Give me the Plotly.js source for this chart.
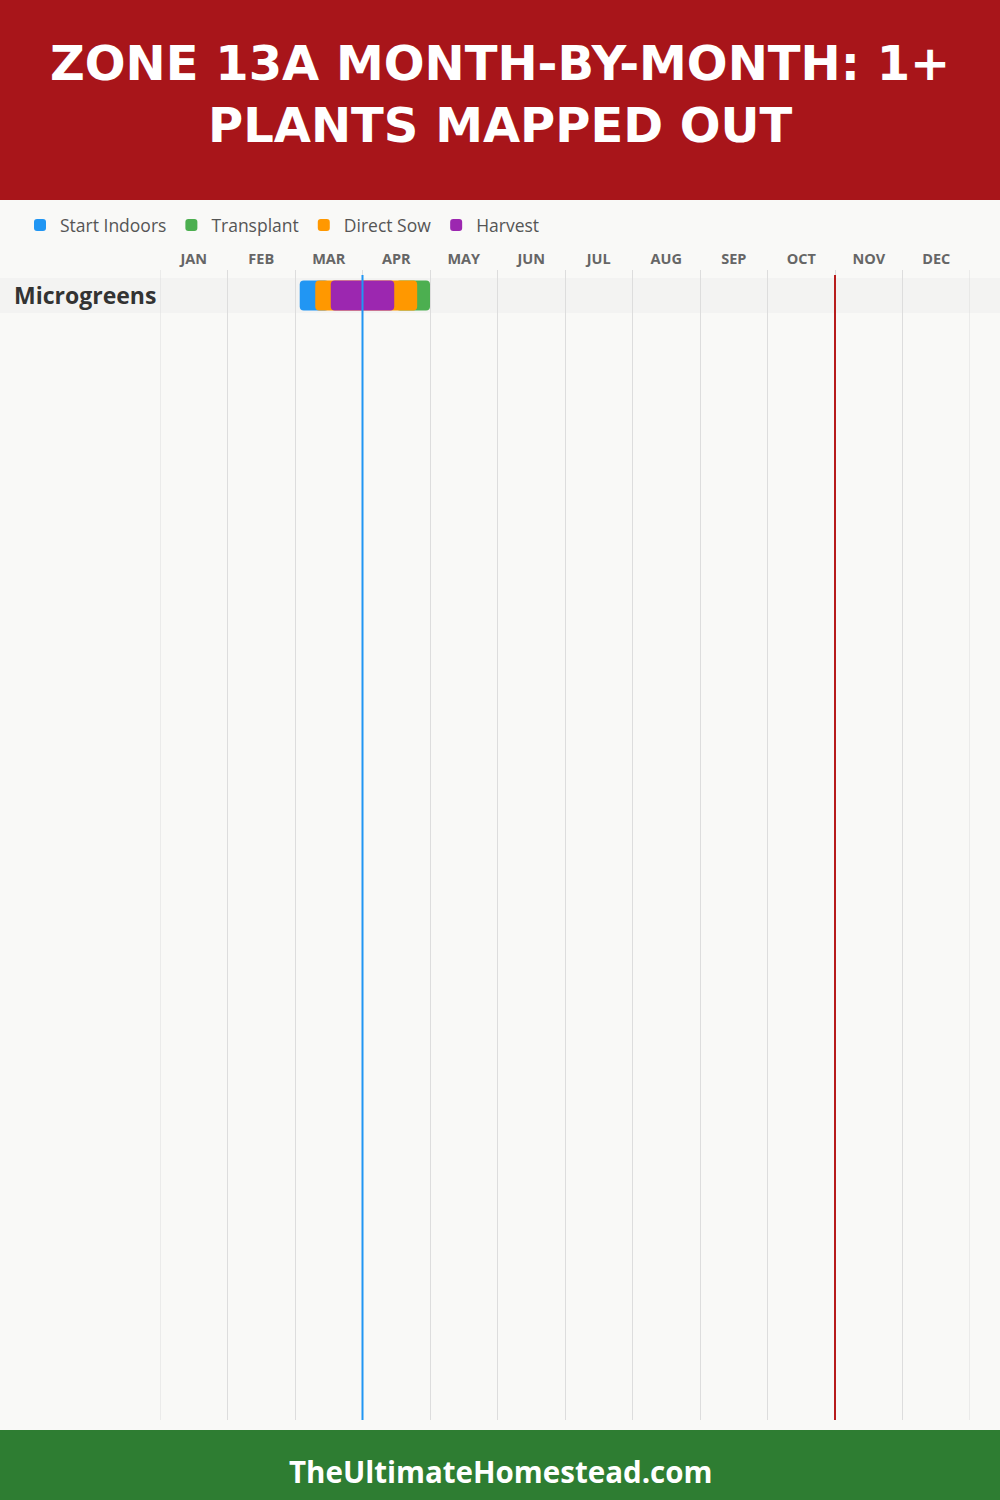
<!DOCTYPE html>
<html>
<head>
<meta charset="utf-8">
<script src="https://cdn.plot.ly/plotly-3.0.1.min.js"></script>
<style>
html,body{margin:0;padding:0;background:#f9f9f7;}
#chart{width:1000px;height:1500px;}
</style>
</head>
<body>
<div id="chart"></div>
<script>
// ---- data ----
const titleLines = ['ZONE 13A MONTH-BY-MONTH: 1+', 'PLANTS MAPPED OUT'];
const footerText = 'TheUltimateHomestead.com';
const months = ['JAN','FEB','MAR','APR','MAY','JUN','JUL','AUG','SEP','OCT','NOV','DEC'];
const plants = ['Microgreens'];
// month offsets (0 = Jan 1, 12 = Dec 31)
const startIndoorsStart = [2.07], startIndoorsEnd = [2.5];
const transplantStart   = [3.5],  transplantEnd   = [4.0];
const directSowStart    = [2.3],  directSowEnd    = [3.81];
const harvestStart      = [2.53], harvestEnd      = [3.47];
const lastFrost = 3.0;   // blue line
const firstFrost = 10.0; // red line

const series = [
  {name:'Start Indoors', s:startIndoorsStart, e:startIndoorsEnd, color:'#2196F3'},
  {name:'Transplant',    s:transplantStart,   e:transplantEnd,   color:'#4CAF50'},
  {name:'Direct Sow',    s:directSowStart,    e:directSowEnd,    color:'#FF9800'},
  {name:'Harvest',       s:harvestStart,      e:harvestEnd,      color:'#9C27B0'}
];

const rowIdx = plants.map((p,i)=>i);
const traces = series.map(sr => ({
  type:'bar', orientation:'h', name:sr.name,
  y: rowIdx, base: sr.s, x: sr.s.map((v,i)=>sr.e[i]-v),
  width: 0.857,
  marker:{color:sr.color, cornerradius:4, line:{width:0}},
  hoverinfo:'skip'
}));

const W=1000,H=1500;
const plotTop=270, plotBot=1420, rowPx=35;
const yTopVal = -0.5 - (278-plotTop)/rowPx;
const yBotVal = yTopVal + (plotBot-plotTop)/rowPx;
const yLineTop = -0.5 - 3/rowPx;

const shapes = [
  {type:'rect', xref:'paper', yref:'paper', x0:0, x1:1, y0:1-200/H, y1:1, fillcolor:'#A8151A', line:{width:0}, layer:'below'},
  {type:'rect', xref:'paper', yref:'paper', x0:0, x1:1, y0:0, y1:70/H, fillcolor:'#2E7D32', line:{width:0}, layer:'below'}
];
// edge grid lines (Jan 1 and Dec 31)
[0, months.length].forEach(v=>{
  shapes.push({type:'line', xref:'x', yref:'y', x0:v, x1:v, y0:yTopVal, y1:yBotVal, line:{color:'#DDDDDD', width:1}, layer:'between'});
});
plants.forEach((p,i)=>{
  shapes.push({type:'rect', xref:'paper', yref:'y', x0:0, x1:1, y0:i-0.5, y1:i+0.5, fillcolor:'#F3F3F2', line:{width:0}, layer:'between'});
});
shapes.push({type:'line', xref:'x', yref:'y', x0:lastFrost, x1:lastFrost, y0:yLineTop, y1:yBotVal, line:{color:'#2196F3', width:2}, layer:'above'});
shapes.push({type:'line', xref:'x', yref:'y', x0:firstFrost, x1:firstFrost, y0:yLineTop, y1:yBotVal, line:{color:'#B71C1C', width:2}, layer:'above'});

const annotations = [
  {text:titleLines.join('<br>'), xref:'paper', yref:'paper', x:0.5, y:1-94/H, xanchor:'center', yanchor:'middle', showarrow:false,
   align:'center', font:{family:'DejaVu Sans', size:48, weight:700, color:'#ffffff'}},
  {text:footerText, xref:'paper', yref:'paper', x:0.5, y:1-1471/H, xanchor:'center', yanchor:'middle', showarrow:false,
   font:{family:'Open Sans', size:29.5, weight:700, color:'#ffffff'}}
];
plants.forEach((p,i)=>{
  annotations.push({text:p, xref:'paper', yref:'y', x:0.012, y:i, xanchor:'left', yanchor:'middle', showarrow:false,
    font:{family:'Open Sans', size:23, weight:700, color:'#333333'}});
});

const layout = {
  width:W, height:H,
  margin:{l:0,r:0,t:0,b:0},
  paper_bgcolor:'#F9F9F7', plot_bgcolor:'#F9F9F7',
  barmode:'overlay',
  showlegend:true,
  legend:{orientation:'h', x:0.02, xanchor:'left', y:1-225/H, yanchor:'middle',
    font:{family:'Open Sans', size:17.5, color:'#555555'}, bgcolor:'rgba(0,0,0,0)', traceorder:'normal', itemclick:false},
  xaxis:{domain:[0.16,0.97], range:[0,12], side:'top', fixedrange:true,
    tickmode:'array', tickvals:months.map((m,i)=>i+0.5), ticktext:months,
    tickfont:{family:'Open Sans', size:14.5, weight:700, color:'#666666'},
    ticklabelstandoff:2,
    ticks:'', showgrid:false, zeroline:false, showline:false,
    minor:{tickmode:'linear', tick0:0, dtick:1, showgrid:true, gridcolor:'#DDDDDD', gridwidth:1, ticks:''}},
  yaxis:{domain:[1-plotBot/H, 1-plotTop/H], range:[yBotVal, yTopVal], fixedrange:true,
    showticklabels:false, showgrid:false, zeroline:false, showline:false, ticks:''},
  shapes:shapes,
  annotations:annotations
};

Plotly.newPlot('chart', traces, layout, {displayModeBar:false, staticPlot:true});
</script>
</body>
</html>
